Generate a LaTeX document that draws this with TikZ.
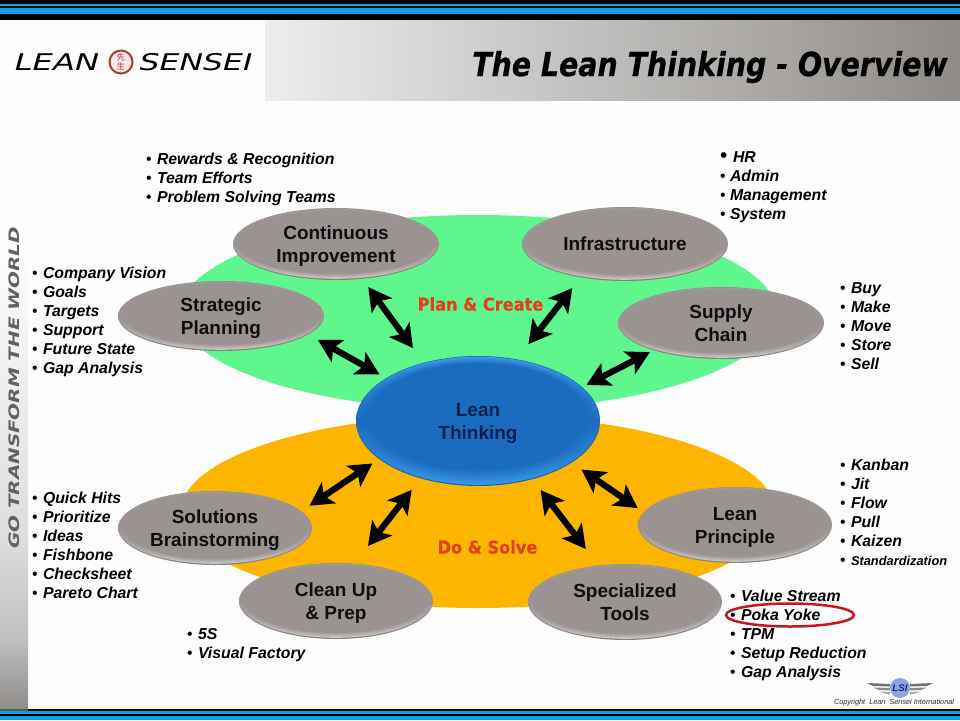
\documentclass[tikz,border=0pt]{standalone}
\usepackage{fontspec}
\usepackage{graphicx}
\setmainfont{Liberation Sans}
\newfontfamily\djfont[BoldFeatures={FakeBold=0.4},BoldItalicFeatures={FakeBold=0.8}]{DejaVu Sans}
\newfontfamily\stripfont{DejaVu Sans}
\newfontfamily\cjkfont{Noto Sans CJK SC}
\usetikzlibrary{arrows.meta,shapes.geometric}
\definecolor{pagebg}{HTML}{FEFDFD}
\definecolor{bandblue}{HTML}{0E9FDF}
\definecolor{greenblob}{HTML}{5FF68E}
\definecolor{orangeblob}{HTML}{FDB500}
\definecolor{gedgetop}{HTML}{938D8B}
\definecolor{gedgebot}{HTML}{85807E}
\definecolor{grimtop}{HTML}{A39D9B}
\definecolor{grimbot}{HTML}{CBC8C6}
\definecolor{gbase}{HTML}{9A9391}
\definecolor{bedgetop}{HTML}{0F67A8}
\definecolor{bedgebot}{HTML}{1268AE}
\definecolor{brimtop}{HTML}{3D9CF0}
\definecolor{brimbot}{HTML}{3A95E6}
\definecolor{bbase}{HTML}{1B6CBF}
\definecolor{labelred}{HTML}{E2401C}
\definecolor{ringred}{HTML}{C8141C}
\definecolor{inktext}{HTML}{0E0E0E}
\definecolor{navytext}{HTML}{08204F}
\definecolor{headend}{HTML}{8F8B87}
\definecolor{stripa}{HTML}{DEDDDB}
\definecolor{stripb}{HTML}{C0BFBD}
\definecolor{stripc}{HTML}{8F8C8A}
\definecolor{sealred}{HTML}{B03A2E}
\definecolor{sealink}{HTML}{B0281E}
\definecolor{badgefill}{HTML}{8FA3DC}
\definecolor{badgeink}{HTML}{142888}
\tikzset{
  ovalnode/.style={ellipse,draw=none,inner sep=0pt,outer sep=0pt,align=center,text=inktext,
    font=\fontsize{10.8}{13.1}\selectfont\bfseries},
  listbox/.style={anchor=north west,inner sep=0pt,outer sep=0pt,align=left,text=black,
    font=\fontsize{9.0}{10.81}\selectfont\bfseries\itshape},
  biarrow/.style={line width=0.125cm,{Stealth[length=0.46cm,width=0.5cm,inset=0.11cm]}-{Stealth[length=0.46cm,width=0.5cm,inset=0.11cm]},black},
  zonelabel/.style={inner sep=0pt,text=labelred,font=\fontsize{10}{12}\selectfont\djfont\bfseries},
}
% bullet line
\newcommand{\li}[1]{\makebox[6.26pt][l]{\upshape\mdseries •}\rule{0pt}{8pt}#1}
\newcommand{\bev}[8]{%
  \shade[top color=#6edgetop,bottom color=#6edgebot,middle color=#6base] (#2,#3) ellipse [x radius=#4,y radius=#5];
  \foreach \i in {0,...,6}{%
    \pgfmathsetmacro\p{100*(6-\i)/6}%
    \pgfmathsetmacro\ins{0.9+\i*#8}%
    \pgfmathsetmacro\cy{#3-0.35*\i*#8-0.3}%
    \pgfmathsetmacro\rx{#4-1.2*\ins}%
    \pgfmathsetmacro\ry{#5-\ins}%
    \shade[top color=#6rimtop!\p!#6base,bottom color=#6rimbot!\p!#6base,middle color=#6base] (#2,\cy) ellipse [x radius=\rx,y radius=\ry];
  }%
  \node[ovalnode,minimum width={2*#4*0.02cm},minimum height={2*#5*0.02cm},#6node] (#1) at (#2,#3) {\rule{0pt}{10.04pt}#7\rule[-2.3pt]{0pt}{2.3pt}};
}
\tikzset{gnode/.style={},bnode/.style={text=navytext}}
\begin{document}
\begin{tikzpicture}[x=0.02cm,y=-0.02cm]
\useasboundingbox (0,0) rectangle (960,720);
\fill[pagebg] (0,0) rectangle (960,720);
% header
\shade[left color=black!7,right color=headend] (265,20) rectangle (960,100);
% left strip
\shade[top color=pagebg,bottom color=stripa] (0,250) rectangle (28,540);
\shade[top color=stripa,bottom color=stripb] (0,540) rectangle (28,640);
\shade[top color=stripb,bottom color=stripc] (0,640) rectangle (28,709);
% bands
\fill[black] (0,0) rectangle (960,20);
\fill[bandblue] (0,4) rectangle (960,6);
\fill[bandblue] (0,8) rectangle (960,14);
\fill[black] (0,709) rectangle (960,720);
\fill[black!65] (0,709) rectangle (28,714);
\fill[bandblue] (0,711) rectangle (960,713.5);
\fill[bandblue] (0,716) rectangle (960,720);
% logo
\node[inner sep=0pt,font=\fontsize{13.1}{14}\selectfont\djfont\itshape] (logoa) at (57,62) {\scalebox{1.4}[1]{LEAN}};
\node[inner sep=0pt,font=\fontsize{13.1}{14}\selectfont\djfont\itshape] (logob) at (196,62) {\scalebox{1.37}[1]{SENSEI}};
\node[circle,draw=sealred,line width=0.04cm,fill=red!8,minimum size=0.46cm,inner sep=0pt,align=center,text=sealink,font=\fontsize{4.6}{5}\selectfont\cjkfont] (logoc) at (121,62) {先\\生};
% title
\node[inner sep=0pt,anchor=base east,text=black,font=\fontsize{18.8}{22}\selectfont\djfont\bfseries\itshape] (title) at (948,76) {\scalebox{0.86}[1]{The Lean Thinking - Overview}};
% strip text
\node[inner sep=0pt,rotate=90,text=black!62,font=\fontsize{8.2}{10}\selectfont\stripfont\bfseries\itshape] (strip) at (14,388) {\scalebox{1.38}[1]{GO TRANSFORM THE WORLD}};
% zones
\fill[greenblob] (478,312.5) ellipse [x radius=298,y radius=97.5];
\fill[orangeblob] (478,511.5) ellipse [x radius=297,y radius=96.5];
% ovals
\bev{strat}{221}{316}{103}{35}{g}{Strategic\\Planning}{0.6}
\bev{ci}{336}{244}{103}{36}{g}{Continuous\\Improvement}{0.6}
\bev{infra}{625}{244}{103}{37}{g}{Infrastructure}{0.6}
\bev{supply}{721}{323}{103}{36}{g}{Supply\\Chain}{0.6}
\bev{sol}{215}{528}{97}{37}{g}{Solutions\\Brainstorming}{0.6}
\bev{clean}{336}{601}{97}{38}{g}{Clean Up\\\& Prep}{0.6}
\bev{spec}{625}{602}{97}{38}{g}{Specialized\\Tools}{0.6}
\bev{lp}{735}{525}{97}{38}{g}{Lean\\Principle}{0.6}
\bev{lean}{478}{421}{122}{65}{b}{Lean\\Thinking}{1.7}
% zone labels
\node[zonelabel] (plan) at (480.5,304) {\scalebox{0.92}[1]{Plan \& Create}};
\node[zonelabel] (dosolve) at (487.5,547) {\scalebox{0.92}[1]{Do \& Solve}};
% connectors
\draw[biarrow,shorten <=0.216cm,shorten >=0.154cm] (strat.-12) -- (lean.155);
\draw[biarrow,shorten <=0.204cm,shorten >=0.364cm] (ci.-53) -- (lean.133);
\draw[biarrow,shorten <=0.27cm,shorten >=0.384cm] (infra.-143) -- (lean.58);
\draw[biarrow,shorten <=0.084cm,shorten >=0.098cm] (supply.-158) -- (lean.18);
\draw[biarrow,shorten <=0.196cm,shorten >=0.16cm] (sol.11) -- (lean.-159);
\draw[biarrow,shorten <=0.448cm,shorten >=0.292cm] (clean.64) -- (lean.-135);
\draw[biarrow,shorten <=0.416cm,shorten >=0.274cm] (spec.126) -- (lean.-47);
\draw[biarrow,shorten <=0.144cm,shorten >=0.242cm] (lp.172) -- (lean.-24);
% lists
\node[listbox] (l1) at (146,150.1) {\li{Rewards \& Recognition}\\\li{Team Efforts}\\\li{Problem Solving Teams}};
\node[listbox] (l2) at (720,148.1) {\makebox[7.4pt][l]{\upshape\mdseries\fontsize{12}{10}\selectfont •}\rule{0pt}{8pt}HR\\\makebox[5.7pt][l]{\upshape\mdseries •}\rule{0pt}{8pt}Admin\\\makebox[5.7pt][l]{\upshape\mdseries •}\rule{0pt}{8pt}Management\\\makebox[5.7pt][l]{\upshape\mdseries •}\rule{0pt}{8pt}System};
\node[listbox] (l3) at (32,264.1) {\li{Company Vision}\\\li{Goals}\\\li{Targets}\\\li{Support}\\\li{Future State}\\\li{Gap Analysis}};
\node[listbox] (l4) at (840,279.1) {\li{Buy}\\\li{Make}\\\li{Move}\\\li{Store}\\\li{Sell}};
\node[listbox] (l5) at (840,456.1) {\li{Kanban}\\\li{Jit}\\\li{Flow}\\\li{Pull}\\\li{Kaizen}\\\li{\fontsize{7.3}{10.81}\selectfont Standardization}};
\node[listbox] (l6) at (32,489.1) {\li{Quick Hits}\\\li{Prioritize}\\\li{Ideas}\\\li{Fishbone}\\\li{Checksheet}\\\li{Pareto Chart}};
\node[listbox] (l7) at (730,587.1) {\li{Value Stream}\\\li{Poka Yoke}\\\li{TPM}\\\li{Setup Reduction}\\\li{Gap Analysis}};
\node[listbox] (l8) at (187,625.1) {\li{5S}\\\li{Visual Factory}};
% ring
\draw[ringred,line width=0.05cm] (790,615) ellipse [x radius=64,y radius=11.5];
% wing badge
\fill[black!55] (867,683) -- (890,684) -- (890,686.5) -- (873,686) -- cycle;
\fill[black!45] (873,687.5) -- (890,688) -- (890,690.5) -- (879,690) -- cycle;
\fill[black!35] (880,691.5) -- (890,692) -- (890,694.5) -- (886,694) -- cycle;
\fill[black!55] (933,683) -- (910,684) -- (910,686.5) -- (927,686) -- cycle;
\fill[black!45] (927,687.5) -- (910,688) -- (910,690.5) -- (921,690) -- cycle;
\fill[black!35] (920,691.5) -- (910,692) -- (910,694.5) -- (914,694) -- cycle;
\node[circle,fill=badgefill,minimum size=0.4cm,inner sep=0pt,text=badgeink,font=\fontsize{5.5}{6}\selectfont\bfseries\itshape] (badge) at (900,688) {LSI};
\node[inner sep=0pt,text=black!85,font=\fontsize{4.15}{6}\selectfont\itshape] (copy) at (894,703) {Copyright\ \ Lean\ \ Sensei International};
\end{tikzpicture}
\end{document}
